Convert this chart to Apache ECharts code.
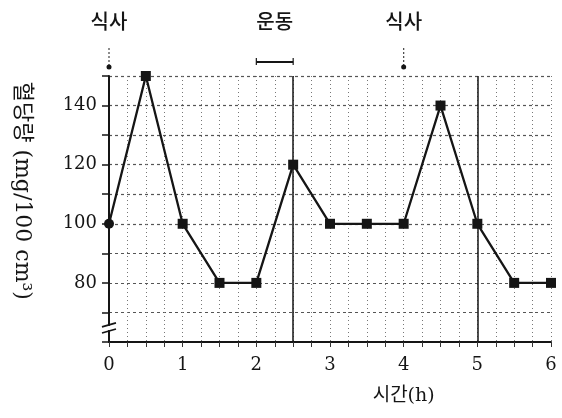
<!DOCTYPE html>
<html><head><meta charset="utf-8">
<script src="https://cdn.jsdelivr.net/npm/echarts@6/dist/echarts.min.js"></script>
<style>html,body{margin:0;padding:0;background:#fff}#c{width:562px;height:418px}</style>
</head><body><div id="c"></div>
<script>
const times = [0, 0.5, 1, 1.5, 2, 2.5, 3, 3.5, 4, 4.5, 5, 5.5, 6];
const glucose = [100, 150, 100, 80, 80, 120, 100, 100, 100, 140, 100, 80, 80];
const xTickLabels = [0, 1, 2, 3, 4, 5, 6];
const yTickLabels = [80, 100, 120, 140];
const mealTimes = [0, 4];
const mealLabel = '식사';
const exerciseRange = [2, 2.5];
const exerciseLabel = '운동';
const refLines = [2.5, 5];
const xName = '시간(h)';
const yName = '혈당량 (mg/100 cm³)';
const breakValues = [65.8, 63.7];

const SERIF = '"DejaVu Serif","Liberation Serif","Noto Sans CJK KR",serif';
const KR = '"Noto Sans CJK KR","DejaVu Serif",serif';
const INK = '#151515';

const chart = echarts.init(document.getElementById('c'), null, {renderer: 'canvas'});
const data = times.map((t, i) => ({
  value: [t, glucose[i]],
  symbol: i === 0 ? 'circle' : 'rect',
  symbolSize: 10
}));

chart.setOption({
  animation: false,
  backgroundColor: '#fff',
  grid: {left: 109, right: 11, top: 76, bottom: 76, containLabel: false},
  xAxis: {
    type: 'value', min: 0, max: 6, interval: 0.25,
    axisLine: {show: true, lineStyle: {color: INK, width: 2}},
    axisTick: {show: true, length: 5, lineStyle: {color: '#333', width: 1}},
    axisLabel: {
      margin: 14, color: INK, fontFamily: SERIF, fontSize: 18,
      formatter: v => xTickLabels.includes(v) ? String(v) : ''
    },
    splitLine: {show: true, lineStyle: {color: '#777', width: 1, type: [1, 3]}}
  },
  yAxis: {
    type: 'value', min: 60, max: 150, interval: 10,
    axisLine: {show: true, onZero: false, lineStyle: {color: INK, width: 2}},
    axisTick: {show: true, length: 7, lineStyle: {color: INK, width: 1.5}},
    axisLabel: {
      margin: 12, color: INK, fontFamily: SERIF, fontSize: 18,
      formatter: v => yTickLabels.includes(v) ? String(v) : ''
    },
    splitLine: {show: true, lineStyle: {color: '#555', width: 1.2, type: [3, 3]}}
  },
  series: [{
    type: 'line',
    data: data,
    lineStyle: {color: INK, width: 2.3},
    itemStyle: {color: INK},
    z: 5,
    markLine: {
      silent: true, symbol: ['none', 'none'],
      label: {show: false},
      lineStyle: {color: INK, width: 1.5, type: 'solid'},
      data: refLines.map(x => ({xAxis: x}))
    }
  }]
});

function px(x, y) { return chart.convertToPixel({gridIndex: 0}, [x, y]); }
const g = [];
const topY = px(0, 150)[1];
mealTimes.forEach(t => {
  const p = px(t, 150);
  g.push({type: 'line', shape: {x1: p[0], y1: topY - 28, x2: p[0], y2: topY - 9},
    style: {stroke: '#444', lineWidth: 1.2, lineDash: [2, 2]}});
  g.push({type: 'circle', shape: {cx: p[0], cy: topY - 9, r: 2.5}, style: {fill: INK}});
  g.push({type: 'text', x: p[0], y: topY - 55,
    style: {text: mealLabel, font: '500 20px ' + KR, fill: INK, align: 'center', verticalAlign: 'middle'}});
});
{
  const a = px(exerciseRange[0], 150), b = px(exerciseRange[1], 150);
  const y = topY - 14;
  g.push({type: 'line', shape: {x1: a[0], y1: y, x2: b[0], y2: y}, style: {stroke: INK, lineWidth: 2}});
  g.push({type: 'line', shape: {x1: a[0], y1: y - 4, x2: a[0], y2: y + 3}, style: {stroke: INK, lineWidth: 1.2}});
  g.push({type: 'line', shape: {x1: b[0], y1: y - 4, x2: b[0], y2: y + 3}, style: {stroke: INK, lineWidth: 1.2}});
  g.push({type: 'text', x: (a[0] + b[0]) / 2, y: topY - 55,
    style: {text: exerciseLabel, font: '500 20px ' + KR, fill: INK, align: 'center', verticalAlign: 'middle'}});
}
{
  const p1 = px(0, breakValues[0]), p2 = px(0, breakValues[1]);
  g.push({type: 'rect', shape: {x: p1[0] - 3, y: p1[1] + 1, width: 6, height: p2[1] - p1[1] - 2}, style: {fill: '#fff'}, z: 100});
  [p1, p2].forEach(p => g.push({type: 'line', z: 101,
    shape: {x1: p[0] - 7, y1: p[1] + 2, x2: p[0] + 7, y2: p[1] - 2}, style: {stroke: INK, lineWidth: 1.6}}));
}
{
  const p = px(4, 60);
  g.push({type: 'text', x: p[0], y: p[1] + 54,
    style: {text: xName, font: '19px ' + SERIF, fill: INK, align: 'center', verticalAlign: 'middle'}});
}
{
  const p = px(0, 100);
  g.push({type: 'text', x: 22, y: p[1] - 33, rotation: -Math.PI / 2,
    style: {text: yName, font: '22px ' + SERIF, fill: INK, align: 'center', verticalAlign: 'middle'}});
}
chart.setOption({graphic: g});
</script></body></html>
